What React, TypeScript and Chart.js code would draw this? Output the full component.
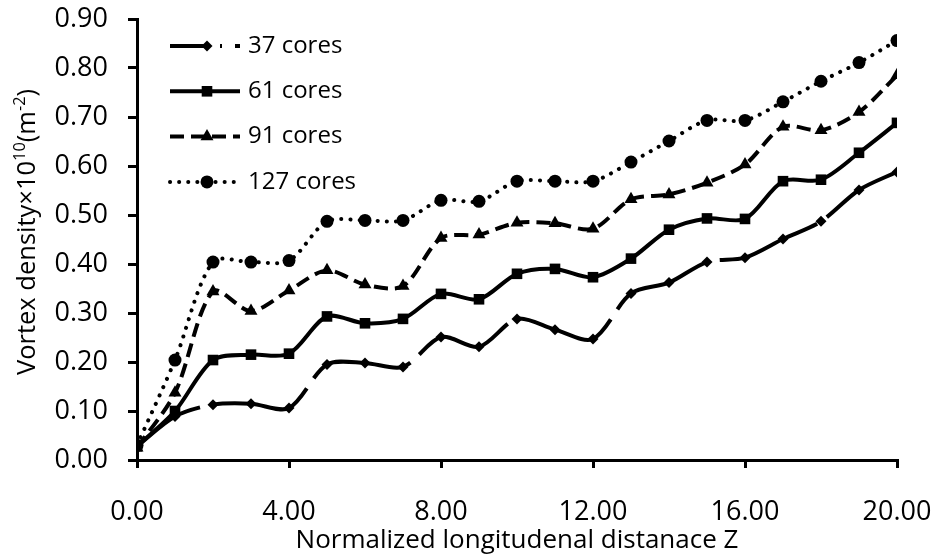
import React, { useEffect, useRef } from 'react';
import { Chart, registerables } from 'chart.js';
import { drawPoint } from 'chart.js/helpers';

Chart.register(...registerables);

const zValues = [0, 1, 2, 3, 4, 5, 6, 7, 8, 9, 10, 11, 12, 13, 14, 15, 16, 17, 18, 19, 20];
const cores37 = [0.028, 0.089, 0.113, 0.115, 0.106, 0.195, 0.198, 0.190, 0.251, 0.231, 0.288, 0.266, 0.247, 0.340, 0.362, 0.404, 0.413, 0.451, 0.487, 0.551, 0.588];
const cores61 = [0.028, 0.100, 0.204, 0.215, 0.217, 0.293, 0.279, 0.288, 0.339, 0.328, 0.380, 0.390, 0.373, 0.411, 0.470, 0.493, 0.492, 0.569, 0.572, 0.627, 0.688];
const cores91 = [0.025, 0.137, 0.344, 0.304, 0.346, 0.387, 0.358, 0.355, 0.453, 0.460, 0.484, 0.483, 0.472, 0.532, 0.542, 0.566, 0.603, 0.680, 0.673, 0.710, 0.785];
const cores127 = [0.030, 0.204, 0.404, 0.404, 0.407, 0.487, 0.489, 0.489, 0.530, 0.528, 0.569, 0.569, 0.569, 0.608, 0.651, 0.693, 0.693, 0.731, 0.773, 0.811, 0.856];
const seriesLabels = ['37 cores', '61 cores', '91 cores', '127 cores'];
const xTickValues = [0, 4, 8, 12, 16, 20];
const yTickValues = [0, 0.1, 0.2, 0.3, 0.4, 0.5, 0.6, 0.7, 0.8, 0.9];
const xTitle = 'Normalized longitudenal distanace Z';
const yTitleParts = [
  { text: 'Vortex density×10', sup: false },
  { text: '10', sup: true },
  { text: '(m', sup: false },
  { text: '-2', sup: true },
  { text: ')', sup: false },
];

const FONT = "'Open Sans', sans-serif";
const TICK_FS = 27;
const LEGEND_FS = 24;
const TITLE_FS = 25;
const Y_TITLE_LEN = 286;

const yTitlePlugin = {
  id: 'yTitleSup',
  afterDraw(chart: any) {
    const ctx = chart.ctx;
    ctx.save();
    ctx.fillStyle = '#000';
    ctx.textBaseline = 'alphabetic';
    ctx.textAlign = 'left';
    const widths = yTitleParts.map((p) => {
      ctx.font = `${p.sup ? 16 : TITLE_FS}px ${FONT}`;
      return ctx.measureText(p.text).width;
    });
    const total = widths.reduce((a, b) => a + b, 0);
    ctx.translate(35, 232);
    ctx.rotate(-Math.PI / 2);
    ctx.scale(Y_TITLE_LEN / total, 1);
    let x = -total / 2;
    yTitleParts.forEach((p, i) => {
      ctx.font = `${p.sup ? 16 : TITLE_FS}px ${FONT}`;
      ctx.fillText(p.text, x, p.sup ? -10 : 0);
      x += widths[i];
    });
    ctx.restore();
  },
};

const legendPlugin = {
  id: 'lineLegend',
  afterDraw(chart: any) {
    const ctx = chart.ctx;
    const area = chart.chartArea;
    chart.data.datasets.forEach((ds: any, i: number) => {
      const y = area.top + 27 + i * 45.3;
      const x0 = area.left + 33;
      ctx.save();
      ctx.strokeStyle = '#000';
      ctx.lineWidth = ds.borderWidth;
      ctx.lineCap = ds.borderCapStyle;
      ctx.setLineDash(ds.legendDash);
      ctx.beginPath();
      ctx.moveTo(x0, y);
      ctx.lineTo(x0 + 70, y);
      ctx.stroke();
      ctx.setLineDash([]);
      ctx.fillStyle = '#000';
      drawPoint(ctx, { pointStyle: ds.pointStyle, rotation: 0, radius: ds.pointRadius, borderWidth: 0 } as any, x0 + 37, y);
      ctx.font = `${LEGEND_FS}px ${FONT}`;
      ctx.textBaseline = 'middle';
      ctx.textAlign = 'left';
      ctx.fillText(ds.label, x0 + 78, y);
      ctx.restore();
    });
  },
};

export default function App() {
  const ref = useRef<HTMLCanvasElement | null>(null);
  useEffect(() => {
    document.body.style.margin = '0';
    const canvas = ref.current!;
    const mk = (label: string, data: number[], style: string, radius: number, dash: number[], dashOffset: number, legendDash: number[], cap: string) => ({
      label,
      data: zValues.map((z, i) => ({ x: z, y: data[i] })),
      borderColor: '#000',
      backgroundColor: '#000',
      borderWidth: 4,
      borderDash: dash,
      borderDashOffset: dashOffset,
      legendDash,
      borderCapStyle: cap,
      pointStyle: style,
      pointRadius: radius,
      pointBorderWidth: 0,
      pointBackgroundColor: '#000',
      tension: 0.3,
      fill: false,
    });
    const chart = new Chart(canvas, {
      type: 'line',
      data: {
        datasets: [
          mk(seriesLabels[0], cores37, 'rectRot', 5.5, [105, 12], 30, [37, 13, 2, 13], 'butt'),
          mk(seriesLabels[1], cores61, 'rect', 7.5, [], 0, [], 'butt'),
          mk(seriesLabels[2], cores91, 'triangle', 7.5, [14, 7], 0, [14, 7], 'butt'),
          mk(seriesLabels[3], cores127, 'circle', 6.5, [0.1, 9], 0, [0.1, 9], 'round'),
        ] as any,
      },
      options: {
        animation: false,
        responsive: false,
        devicePixelRatio: 1,
        layout: { padding: { top: 19, right: 38, left: 0, bottom: 0 } },
        plugins: { legend: { display: false }, tooltip: { enabled: false } },
        scales: {
          x: {
            type: 'linear',
            min: 0,
            max: 20,
            afterBuildTicks: (s: any) => { s.ticks = xTickValues.map((v) => ({ value: v })); },
            afterFit: (s: any) => { s.height = 99; s.paddingLeft = 0; s.paddingRight = 0; },
            ticks: { color: '#000', font: { family: FONT, size: TICK_FS }, padding: 28, maxRotation: 0, callback: (v: any) => Number(v).toFixed(2) },
            grid: { display: true, drawOnChartArea: false, drawTicks: true, tickLength: 8, color: '#000', lineWidth: 3 },
            border: { display: true, color: '#000', width: 3 },
            title: { display: true, text: xTitle, color: '#000', font: { family: FONT, size: TITLE_FS + 1 }, padding: { top: 0, bottom: 3 } },
          },
          y: {
            type: 'linear',
            min: 0,
            max: 0.9,
            afterBuildTicks: (s: any) => { s.ticks = yTickValues.map((v) => ({ value: v })); },
            afterFit: (s: any) => { s.width = 137; s.paddingTop = 0; s.paddingBottom = 0; },
            ticks: { color: '#000', font: { family: FONT, size: TICK_FS }, padding: 20, callback: (v: any) => Number(v).toFixed(2) },
            grid: { display: true, drawOnChartArea: false, drawTicks: true, tickLength: 9, color: '#000', lineWidth: 3 },
            border: { display: true, color: '#000', width: 3 },
            title: { display: false },
          },
        },
      } as any,
      plugins: [yTitlePlugin, legendPlugin],
    });
    return () => chart.destroy();
  }, []);
  return <canvas ref={ref} width={935} height={559} style={{ display: 'block', width: 935, height: 559 }} />;
}
